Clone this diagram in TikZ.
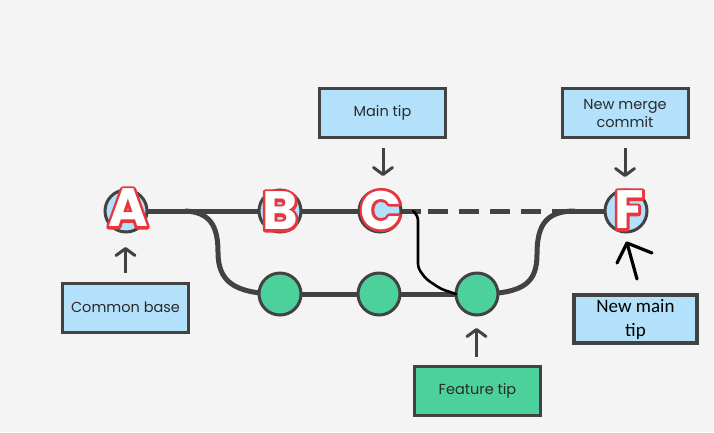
\documentclass[tikz,border=0pt]{standalone}
\usepackage{fontspec}
\setmainfont{Poppins}
\newfontfamily\notefont{Carlito}
\usetikzlibrary{arrows.meta}

\definecolor{paper}{HTML}{F4F4F4}
\definecolor{ink}{HTML}{424242}
\definecolor{sky}{HTML}{B3E1FC}
\definecolor{mint}{HTML}{4DD19C}
\definecolor{tagtext}{HTML}{2A2A2A}

% outlined glyphs: fill + stroke render mode, red stroke
\newcommand\redrim[1]{\special{pdf:code 2 Tr 5.4 w 1 j 0.91 0.21 0.24 RG}#1}

\pgfdeclarelayer{sheet}
\pgfdeclarelayer{under}
\pgfsetlayers{sheet,under,main}

\tikzset{
  commit/.style={circle, draw=ink, line width=3pt, minimum size=42pt, inner sep=0pt},
  maincommit/.style={commit, fill=sky},
  featcommit/.style={commit, fill=mint},
  letter/.style={text=white, inner sep=0pt, font=\fontsize{54}{54}\selectfont\bfseries},
  tag/.style={draw=ink, line width=3pt, fill=sky, text=tagtext, align=center,
    minimum width=126pt, minimum height=49pt, inner sep=0pt,
    font=\fontsize{14.5}{18}\selectfont},
  branch/.style={draw=ink, line width=5pt},
  pointer/.style={draw=ink, line width=3pt,
    -{Straight Barb[length=7pt,width=19pt,round]}},
  pen/.style={draw=black, line width=3.2pt, line cap=round, line join=round},
}

\begin{document}
\begin{tikzpicture}[x=1pt,y=-1pt]
\begin{pgfonlayer}{sheet}
  \fill[paper] (0,0) rectangle (714,432);
\end{pgfonlayer}
\useasboundingbox (0,0) rectangle (714,432);

% commits on main
\node[maincommit] (A) at (126,211) {};
\node[maincommit] (B) at (280,211) {};
\node[maincommit] (C) at (380,211) {};
\node[maincommit] (F) at (626,211) {};
% commits on the feature branch
\node[featcommit] (G1) at (280,294) {};
\node[featcommit] (G2) at (379,294) {};
\node[featcommit] (G3) at (477,294) {};

% commit letters: red rim underneath, white glyph on top
\node[letter] (rA) at (128,208) {\redrim{A}};
\node[letter] (rB) at (280,211) {\redrim{B}};
\node[letter] (rC) at (381,210) {\redrim{C}};
\node[letter] (rF) at (629,210) {\redrim{F}};
\node[letter] (lA) at (rA) {A};
\node[letter] (lB) at (rB) {B};
\node[letter] (lC) at (rC) {C};
\node[letter] (lF) at (rF) {F};

% labels
\node[tag] (maintip) at (382.5,113) {Main tip};
\node[tag] (merge) at (625,113) {New merge\\commit};
\node[tag] (base) at (125.5,307.5) {Common base};
\node[tag, fill=mint] (feature) at (477.5,390.5) {Feature tip};
\node[tag, line width=4pt, minimum width=123pt, minimum height=48pt, text=black,
  font=\notefont\fontsize{19}{24}\selectfont] (newmain) at (635.5,319) {New main\\tip};

% helper points along the main line
\coordinate (fork) at (185,211);
\coordinate (solidend) at (421,211);
\coordinate (dashstart) at (428,211);
\coordinate (dashend) at (552,211);
\coordinate (join) at (575,211);

\begin{pgfonlayer}{under}
  \draw[branch] (A.center) -- (B.center) -- (C.center) -- (solidend);
  \draw[branch, dash pattern=on 20pt off 11pt] (dashstart) -- (dashend);
  \draw[branch] (dashend) -- (F.center);
  % feature branch leaving A
  \draw[branch] (fork) .. controls (210,212) and (218,226) .. (218,252)
     .. controls (218,280) and (232,294) .. (G1.center);
  \draw[branch] (G1.center) -- (G2.center) -- (G3.center);
  % merge back into main
  \draw[branch] (G3.center) .. controls (525,294) and (537,282) .. (537,254)
     .. controls (537,224) and (547,211) .. (join);
\end{pgfonlayer}

% pointers from labels
\draw[pointer, shorten <=9pt] (maintip.south -| C.north) ++(3,0) coordinate (mt1) -- (mt1 |- 0,176);
\draw[pointer, shorten <=9pt] (merge.south) -- (merge.south |- 0,177);
\draw[pointer, shorten <=9pt] (base.north) -- (base.north |- 0,247);
\draw[pointer, shorten <=8pt] (feature.north) ++(-1,0) coordinate (ft1) -- (ft1 |- 0,328);

% hand-drawn additions
\coordinate (hand1) at (413,211);
\coordinate (hand2) at (456,294);
\draw[pen, line width=2.6pt, rounded corners=4pt] (hand1) -- (418,216) -- (418,268)
  -- (426,279) -- (441,289) -- (hand2);
\coordinate (hmtail) at (637,279);
\coordinate (hmtip) at (627,243);
\draw[pen] (hmtail) -- (hmtip);
\draw[pen] (617,263) -- (hmtip) -- (652,253);
\end{tikzpicture}
\end{document}
